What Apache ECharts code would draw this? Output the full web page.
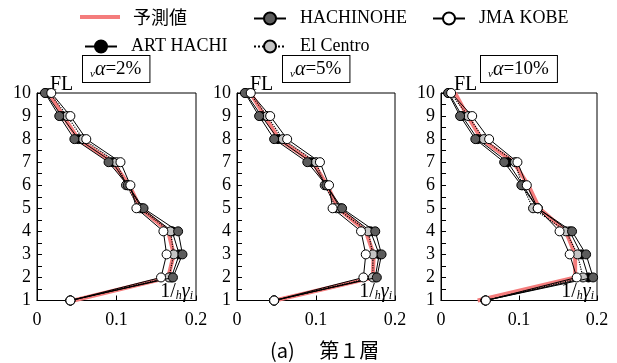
<!DOCTYPE html>
<html><head><meta charset="utf-8">
<script src="https://cdn.jsdelivr.net/npm/echarts@6/dist/echarts.min.js"></script>
<style>html,body{margin:0;padding:0;background:#fff}#c{width:617px;height:363px}</style>
</head><body><div id="c"></div>
<script>
// ---- data ----
const floors = [1,2,3,4,5,6,7,8,9,10];
const xTicks = [0, 0.1, 0.2];
const panelLabels = ['2%', '5%', '10%'];
const seriesNames = ['予測値','HACHINOHE','JMA KOBE','ART HACHI','El Centro'];

// panel 1 (vα=2%)
const pred1 = [0.046,0.165,0.172,0.165,0.130,0.116,0.095,0.052,0.033,0.015];
const hach1 = [0.042,0.171,0.183,0.1775,0.134,0.114,0.090,0.047,0.028,0.010];
const art1  = [0.042,0.169,0.179,0.170,0.132,0.114,0.095,0.052,0.031,0.011];
const elc1  = [0.042,0.166,0.172,0.168,0.129,0.112,0.100,0.058,0.038,0.016];
const jma1  = [0.042,0.156,0.163,0.159,0.125,0.1175,0.105,0.062,0.042,0.018];
// panel 2 (vα=5%)
const pred2 = [0.048,0.172,0.173,0.163,0.128,0.114,0.096,0.053,0.035,0.017];
const hach2 = [0.047,0.177,0.183,0.175,0.133,0.113,0.089,0.047,0.028,0.010];
const art2  = [0.047,0.175,0.180,0.169,0.131,0.113,0.094,0.052,0.031,0.011];
const elc2  = [0.047,0.172,0.172,0.166,0.126,0.111,0.100,0.058,0.038,0.016];
const jma2  = [0.047,0.160,0.163,0.157,0.121,0.1165,0.105,0.0635,0.042,0.0174];
// panel 3 (vα=10%)
const pred3 = [0.047,0.172,0.172,0.160,0.126,0.112,0.093,0.052,0.034,0.018];
const hach3 = [0.057,0.195,0.186,0.168,0.124,0.103,0.081,0.044,0.0245,0.009];
const art3  = [0.057,0.189,0.180,0.165,0.124,0.105,0.0855,0.047,0.027,0.010];
const elc3  = [0.057,0.182,0.175,0.160,0.118,0.104,0.095,0.055,0.035,0.012];
const jma3  = [0.0575,0.174,0.165,0.152,0.124,0.110,0.098,0.0617,0.040,0.013];

const panels = [
  {pred:pred1, hach:hach1, jma:jma1, art:art1, elc:elc1},
  {pred:pred2, hach:hach2, jma:jma2, art:art2, elc:elc2},
  {pred:pred3, hach:hach3, jma:jma3, art:art3, elc:elc3}
];

// ---- layout ----
const SERIF = "Liberation Serif";
const grids = [
  {left:37, top:93, width:159, height:207.5},
  {left:237, top:93, width:158, height:207.5},
  {left:441, top:93, width:156, height:207.5}
];
const boxLeft = [82, 282, 480];

const styles = {
  pred: {color:'#f47c7c', line:{width:4, color:'#f47c7c', type:'solid'}, symbol:'none'},
  art:  {color:'#000000', line:{width:1, color:'#000', type:'solid'}, symbol:'circle'},
  elc:  {color:'#c4c4c4', line:{width:1.2, color:'#000', type:'dotted'}, symbol:'circle'},
  hach: {color:'#5c5c5c', line:{width:1, color:'#000', type:'solid'}, symbol:'circle'},
  jma:  {color:'#ffffff', line:{width:1, color:'#000', type:'solid'}, symbol:'circle'}
};
const keyName = {pred:'予測値', hach:'HACHINOHE', jma:'JMA KOBE', art:'ART HACHI', elc:'El Centro'};
const order = ['pred','art','elc','hach','jma'];

const series = [];
panels.forEach((p, i) => {
  order.forEach((k, j) => {
    const s = styles[k];
    series.push({
      type:'line', name:keyName[k], xAxisIndex:i, yAxisIndex:i,
      data: floors.map((f, n) => [p[k][n], f]),
      symbol: s.symbol, symbolSize: 9, showAllSymbol:true, clip:false,
      lineStyle: s.line,
      itemStyle: k === 'pred' ? {color: s.color, borderWidth:0} : {color: s.color, borderColor:'#000', borderWidth:1},
      emphasis:{disabled:true}, animation:false, z: 2 + j
    });
  });
});

const xAxes = grids.map((g, i) => ({
  type:'value', gridIndex:i, min:0, max:0.2, interval:0.1, position:'bottom',
  axisLine:{show:true, lineStyle:{color:'#000', width:1}},
  axisTick:{show:true, inside:true, length:5, lineStyle:{color:'#000'}},
  axisLabel:{color:'#000', fontFamily:SERIF, fontSize:18, margin:11,
    formatter: v => (xTicks.indexOf(Math.round(v*10)/10) >= 0 ? String(Math.round(v*10)/10) : '')},
  splitLine:{show:false}
}));
const yAxes = grids.map((g, i) => ({
  type:'value', gridIndex:i, min:1, max:10, interval:1,
  axisLine:{show:true, onZero:false, lineStyle:{color:'#000', width:1}},
  axisTick:{show:true, inside:true, length:5, lineStyle:{color:'#000'}},
  minorTick:{show:true, splitNumber:2, length:5, lineStyle:{color:'#000'}},
  axisLabel:{color:'#000', fontFamily:SERIF, fontSize:18, margin:6},
  splitLine:{show:false}
}));

const legendText = {color:'#000', fontFamily:SERIF, fontSize:18, lineHeight:18, padding:[0,0,0,9]};
function leg(name, left, top, extra) {
  return Object.assign({
    data:[name], left:left, top:top, padding:0, itemWidth:32, itemHeight:15,
    selectedMode:false, textStyle:legendText
  }, extra || {});
}
const legends = [
  leg('予測値', 80, 8, {data:[{name:'予測値', icon:'rect', itemStyle:{color:'#f47c7c', borderWidth:0}}], itemWidth:40, itemHeight:4,
      textStyle:Object.assign({}, legendText, {padding:[0,0,0,8], fontFamily:"Noto Sans CJK JP"})}),
  leg('HACHINOHE', 253, 9.5),
  leg('JMA KOBE', 432, 9.5),
  leg('ART HACHI', 84, 37.5),
  leg('El Centro', 253, 37.5)
];

const graphics = [];
grids.forEach((g, i) => {
  graphics.push({type:'text', left:g.left + 13, top:75,
    style:{text:'FL', font:"20px " + SERIF, fill:'#000'}});
  graphics.push({type:'text', left:boxLeft[i], top:55,
    style:{text:'{s|ν}{a|α}{n|=' + panelLabels[i] + '}', fill:'#000',
      backgroundColor:'#fff', borderColor:'#000', borderWidth:1, padding:[3,8,2,7],
      rich:{
        s:{fontFamily:SERIF, fontStyle:'italic', fontSize:11, verticalAlign:'bottom', lineHeight:21, padding:[8,0,0,0]},
        a:{fontFamily:SERIF, fontStyle:'italic', fontSize:20, lineHeight:21},
        n:{fontFamily:SERIF, fontSize:19, lineHeight:21}
      }}});
  graphics.push({type:'text', x:g.left + g.width - 3, y:282,
    style:{text:'{n|1/}{h|h}{g|γ}{i|i}', fill:'#000', align:'right',
      rich:{
        n:{fontFamily:SERIF, fontSize:20, lineHeight:20},
        h:{fontFamily:SERIF, fontStyle:'italic', fontSize:12, lineHeight:20, padding:[8,0,0,0]},
        g:{fontFamily:SERIF, fontStyle:'italic', fontSize:20, lineHeight:20},
        i:{fontFamily:SERIF, fontStyle:'italic', fontSize:12, lineHeight:20, padding:[8,0,0,0]}
      }}});
});
graphics.push({type:'text', left:270, top:340,
  style:{text:'(a)　 第１層', font:"20px 'Noto Sans CJK JP'", fill:'#000'}});

const chart = echarts.init(document.getElementById('c'), null, {renderer:'canvas'});
chart.setOption({
  animation:false,
  backgroundColor:'#fff',
  grid: grids.map(g => Object.assign({show:true, borderColor:'#000', borderWidth:1, backgroundColor:'transparent'}, g)),
  xAxis: xAxes, yAxis: yAxes, legend: legends, series: series, graphic: graphics
});
</script></body></html>
